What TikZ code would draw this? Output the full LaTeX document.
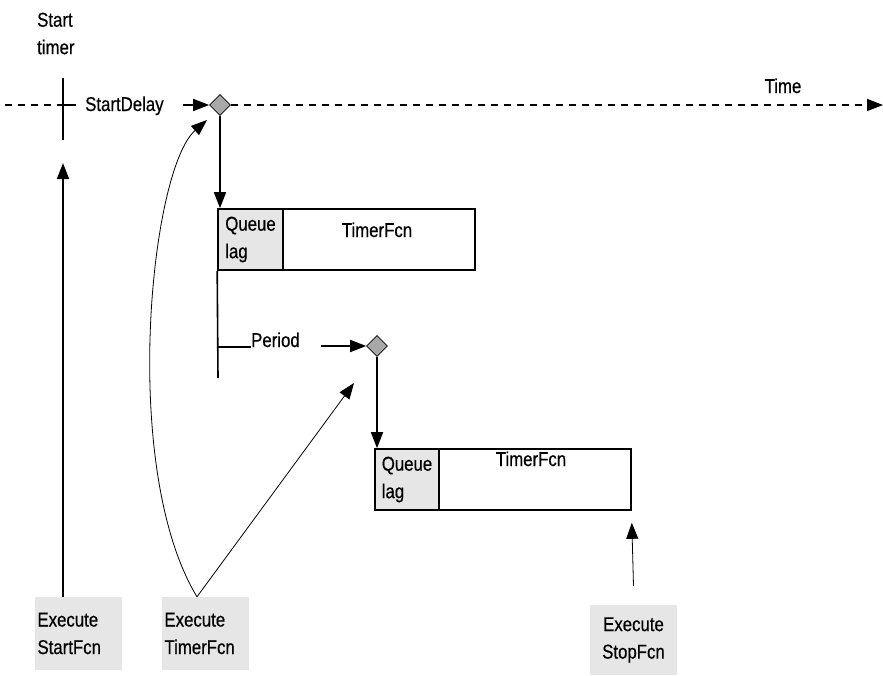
\documentclass[tikz,border=0pt]{standalone}
\usepackage{fontspec}
\setmainfont{Liberation Sans}[FakeStretch=0.84,FakeBold=0.5]
\usetikzlibrary{arrows.meta,shapes.geometric}
\definecolor{boxgray}{HTML}{E6E6E6}
\definecolor{dgray}{HTML}{A8A8A8}
\begin{document}
\begin{tikzpicture}[x=1pt,y=-1pt,
  every node/.style={font=\fontsize{20}{27.5}\selectfont, inner sep=0pt},
  thickline/.style={line width=1.6pt},
  thinline/.style={line width=0.8pt},
  tip/.style={-{Triangle[length=16pt,width=12pt]}},
  gbox/.style={fill=boxgray, inner xsep=2.5pt, align=left},
  fbox/.style={draw, line width=1.6pt, rectangle},
  qcell/.style={draw, line width=1.6pt, fill=boxgray, align=left},
  dia/.style={diamond, draw, fill=dgray, line width=0.6pt, minimum width=21pt, minimum height=21pt},
  dashedline/.style={line width=1.6pt, dash pattern=on 7pt off 6pt}]
\useasboundingbox (0,0) rectangle (883,675);

% start timer
\node[anchor=north west, align=left] (st) at (37,12.5) {Start\\timer};
\coordinate (tt) at (63,78);
\coordinate (tb) at (63,140);
\draw[thickline] (tt) -- (tb);

% time axis
\coordinate (ax0) at (5,105);
\coordinate (axt) at (63,105);
\coordinate (ax1) at (76,105);
\draw[dashedline] (ax0) -- (axt);
\draw[thickline] (axt) -- (ax1);
\node[anchor=base west] (sd) at (85,111) {StartDelay};
\node[dia] (d1) at (220,105) {};
\coordinate (sda) at (183,105);
\draw[thickline, tip] (sda) -- (d1.west);
\coordinate (tend) at (883,105);
\draw[dashedline, tip] (d1.east) -- (tend);
\node[anchor=base] (tm) at (783,93) {Time};

% first TimerFcn box
\node[fbox, minimum width=257pt, minimum height=61pt] (b1) at (346.5,239.5) {};
\node[qcell, anchor=north west, minimum width=65pt, minimum height=61pt] (q1) at (b1.north west) {Queue\\lag};
\node[anchor=base] (f1) at (377,237) {TimerFcn};
\draw[thickline, tip] (d1.south) -- (d1.south |- b1.north);

% period
\coordinate (pv) at (218,378);
\draw[thickline] (b1.south west) -- (pv);
\node[anchor=base west] (per) at (251,347) {Period};
\coordinate (ph) at (218,347);
\draw[thickline] (ph) -- (per.base west);
\node[dia] (d2) at (377,346) {};
\coordinate (pa) at (321,346);
\draw[thickline, tip] (pa) -- (d2.west);

% second TimerFcn box
\node[fbox, minimum width=256pt, minimum height=61pt] (b2) at (503,479.5) {};
\node[qcell, anchor=north west, minimum width=64pt, minimum height=61pt] (q2) at (b2.north west) {Queue\\lag};
\node[anchor=base] (f2) at (531,466) {TimerFcn};
\draw[thickline, tip] (d2.south) -- (d2.south |- b2.north);

% execute boxes
\node[gbox, text width=82pt, minimum height=73pt] (es) at (78.5,633.5) {Execute\\StartFcn};
\node[gbox, text width=82pt, minimum height=73pt] (et) at (205.5,633.5) {Execute\\TimerFcn};
\node[fill=boxgray, align=center, minimum width=87pt, minimum height=70pt] (ep) at (633.5,640) {Execute\\StopFcn};

% arrows from execute boxes
\coordinate (sfx) at (63,163);
\draw[thickline, tip] (es.north -| sfx) -- (sfx);
\coordinate (c1) at (207,120);
\draw[thinline, tip] ([xshift=-8.5pt]et.north) .. controls (120,470) and (150,170) .. (c1);
\coordinate (c2) at (354,383);
\draw[thinline, tip] ([xshift=-8.5pt]et.north) -- (c2);
\draw[thinline, tip] ([yshift=19pt]ep.north) -- ([yshift=-12pt]b2.south east);
\end{tikzpicture}
\end{document}
